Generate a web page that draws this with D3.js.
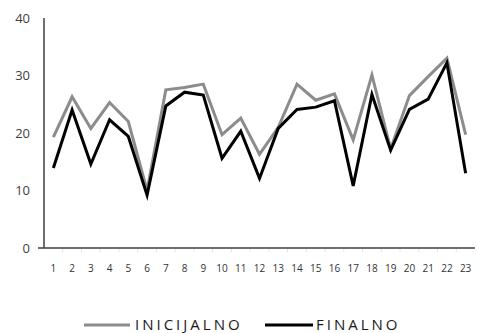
<!DOCTYPE html>
<html><head><meta charset="utf-8">
<script src="https://cdn.jsdelivr.net/npm/d3@7"></script>
<style>body{margin:0;background:#fff}svg{display:block}</style>
</head><body>
<svg id="c" width="477" height="333"></svg>
<script>
const categories = d3.range(1, 24).map(String);
const inicijalno = [19.3, 26.3, 20.8, 25.3, 22.0, 10.0, 27.5, 27.9, 28.5, 19.7, 22.6, 16.3, 21.0, 28.5, 25.7, 26.8, 18.8, 30.1, 17.2, 26.5, 29.8, 33.0, 19.7];
const finalno    = [13.9, 24.0, 14.6, 22.3, 19.4, 9.2, 24.7, 27.1, 26.6, 15.6, 20.3, 12.1, 20.8, 24.1, 24.5, 25.6, 10.8, 26.7, 17.0, 24.1, 25.9, 32.2, 13.0];
const yTicks = [0, 10, 20, 30, 40];
const seriesNames = ["INICIJALNO", "FINALNO"];
const seriesColors = ["#8c8c8c", "#000000"];

const svg = d3.select("#c");
const x = d3.scaleBand().domain(categories).range([44, 475]);
const y = d3.scaleLinear().domain([0, 40]).range([248, 18]);

// minor x ticks
svg.append("g").selectAll("line").data(categories.slice(1)).join("line")
  .attr("x1", d => x(d)).attr("x2", d => x(d))
  .attr("y1", 248).attr("y2", 252)
  .attr("stroke", "#e4e4e4").attr("stroke-width", 1);

// y axis
svg.append("line").attr("x1", 44).attr("x2", 44).attr("y1", y(40)).attr("y2", y(0))
  .attr("stroke", "#404040").attr("stroke-width", 1.5);
// x axis
svg.append("line").attr("x1", 38).attr("x2", 475).attr("y1", y(0)).attr("y2", y(0))
  .attr("stroke", "#404040").attr("stroke-width", 1.5);

svg.append("g").selectAll("text").data(yTicks).join("text")
  .attr("x", 30).attr("y", d => y(d)).attr("dy", "0.35em")
  .attr("text-anchor", "end")
  .attr("font-family", "Open Sans, sans-serif").attr("font-size", 13)
  .attr("fill", "#404040").text(d => d);

svg.append("g").selectAll("text").data(categories).join("text")
  .attr("x", d => x(d) + x.bandwidth() / 2).attr("y", 272)
  .attr("text-anchor", "middle")
  .attr("font-family", "Open Sans, sans-serif").attr("font-size", 10)
  .attr("fill", "#333").text(d => d);

const line = d3.line().x((d, i) => x(categories[i]) + x.bandwidth() / 2).y(d => y(d));
[inicijalno, finalno].forEach((s, k) => {
  svg.append("path").datum(s).attr("d", line)
    .attr("fill", "none").attr("stroke", seriesColors[k]).attr("stroke-width", 3)
    .attr("stroke-linejoin", "miter");
});

// legend
const leg = [{x0: 84, x1: 130, tx: 135}, {x0: 265, x1: 313, tx: 316}];
leg.forEach((l, k) => {
  svg.append("line").attr("x1", l.x0).attr("x2", l.x1).attr("y1", 325).attr("y2", 325)
    .attr("stroke", seriesColors[k]).attr("stroke-width", 3);
  svg.append("text").attr("x", l.tx).attr("y", 325).attr("dy", "0.36em")
    .attr("font-family", "Open Sans, sans-serif").attr("font-size", 15)
    .attr("letter-spacing", "3px")
    .attr("fill", "#1a1a1a").text(seriesNames[k]);
});
</script>
</body></html>
